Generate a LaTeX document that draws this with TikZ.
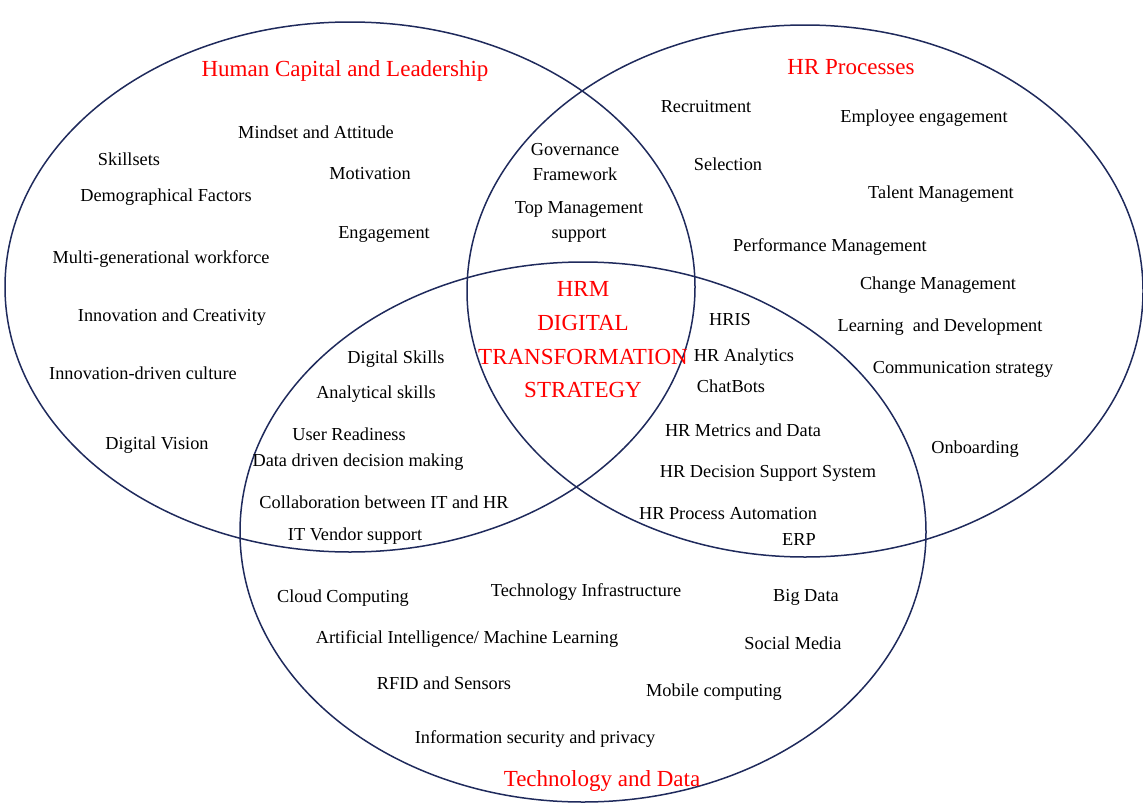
\documentclass[tikz,border=0pt]{standalone}
\usepackage{fontspec}
\setmainfont{Liberation Serif}
\definecolor{ringblue}{HTML}{1F2A5C}
\begin{document}
\begin{tikzpicture}[x=1pt,y=-1pt]
	\tikzstyle{every node}+=[inner sep=0pt]
	\tikzstyle{item}=[font=\fontsize{18.3}{25}\selectfont, align=center, yshift=-2pt]
	\tikzstyle{heading}=[red, font=\fontsize{23}{33.7}\selectfont, align=center, yshift=-1pt]
	\tikzstyle{ring}=[ringblue, line width=1.5pt]
	\useasboundingbox (0,0) rectangle (1143,803);
	\draw [ring] (350,287) ellipse (345pt and 265pt);
	\draw [ring] (805,291) ellipse (338pt and 266pt);
	\draw [ring] (583,532) ellipse (343pt and 270pt);
	\node [heading] (hcl) at (345,70) {Human Capital and Leadership};
	\node [heading] (hrp) at (851,66) {HR Processes};
	\node [heading] (tad) at (602,780) {Technology and Data};
	\node [heading] (core) at (583,339) {HRM\\DIGITAL\\TRANSFORMATION\\STRATEGY};
	\node [item] (mindset) at (316,130) {Mindset and Attitude};
	\node [item] (skillsets) at (129,157) {Skillsets};
	\node [item] (motivation) at (370,172) {Motivation};
	\node [item] (demographic) at (166,195) {Demographical Factors};
	\node [item] (engagement) at (384,232) {Engagement};
	\node [item] (multigen) at (161,257) {Multi-generational workforce};
	\node [item] (innovation) at (172,315) {Innovation and Creativity};
	\node [item] (culture) at (143,371) {Innovation-driven culture};
	\node [item] (vision) at (157,443) {Digital Vision};
	\node [item] (governance) at (575,160) {Governance\\Framework};
	\node [item] (topmgmt) at (579,220) {Top Management\\support};
	\node [item] (recruitment) at (706,105) {Recruitment};
	\node [item] (empeng) at (924,116) {Employee engagement};
	\node [item] (selection) at (728,162) {Selection};
	\node [item] (talent) at (941,192) {Talent Management};
	\node [item] (performance) at (830,245) {Performance Management};
	\node [item] (change) at (938,283) {Change Management};
	\node [item] (learning) at (940,325) {Learning\ \ and Development};
	\node [item] (communication) at (963,367) {Communication strategy};
	\node [item] (onboarding) at (975,447) {Onboarding};
	\node [item] (hris) at (730,318) {HRIS};
	\node [item] (analytics) at (744,355) {HR Analytics};
	\node [item] (chatbots) at (731,384) {ChatBots};
	\node [item] (metrics) at (743,428) {HR Metrics and Data};
	\node [item] (dss) at (768,471) {HR Decision Support System};
	\node [item] (automation) at (728,512) {HR Process Automation};
	\node [item] (erp) at (799,538) {ERP};
	\node [item] (digskills) at (396,357) {Digital Skills};
	\node [item] (anaskills) at (376,392) {Analytical skills};
	\node [item] (readiness) at (349,432) {User Readiness};
	\node [item] (datadriven) at (358,460) {Data driven decision making};
	\node [item] (collab) at (384,500) {Collaboration between IT and HR};
	\node [item] (vendor) at (355,534) {IT Vendor support};
	\node [item] (cloud) at (343,596) {Cloud Computing};
	\node [item] (infra) at (586,590) {Technology Infrastructure};
	\node [item] (bigdata) at (806,595) {Big Data};
	\node [item] (aiml) at (467,637) {Artificial Intelligence/ Machine Learning};
	\node [item] (social) at (793,641) {Social Media};
	\node [item] (rfid) at (444,681) {RFID and Sensors};
	\node [item] (mobile) at (714,690) {Mobile computing};
	\node [item] (infosec) at (535,737) {Information security and privacy};
\end{tikzpicture}
\end{document}
